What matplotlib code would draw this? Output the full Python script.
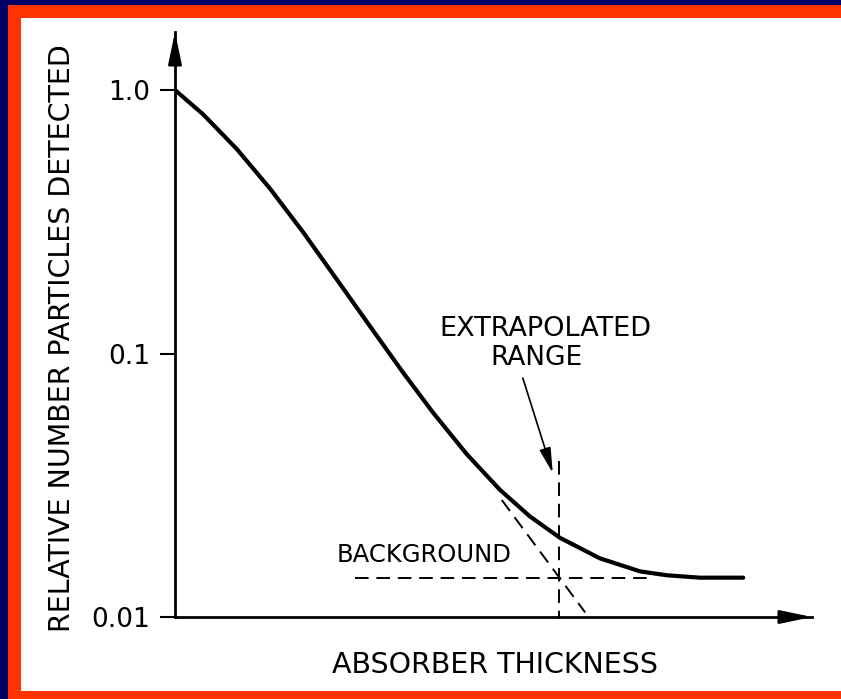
import numpy as np
import matplotlib
matplotlib.use('Agg')
import matplotlib.pyplot as plt
from matplotlib.patches import Rectangle

# curve (absorber thickness in arbitrary units)
thickness = [0, 0.44, 0.97, 1.49, 2.01, 2.54, 3.06, 3.58, 4.05, 4.58, 5.10, 5.57, 6.04,
             6.67, 7.30, 7.72, 8.24, 8.92]
detected = [1.0, 0.809, 0.597, 0.423, 0.289, 0.191, 0.127, 0.0847, 0.0597, 0.0415, 0.0304,
            0.0241, 0.0200, 0.0167, 0.0149, 0.0144, 0.0141, 0.0141]

background_level = 0.0141
background_x = [2.83, 7.5]
extrap_x = [5.13, 6.44]
extrap_y = [0.0278, 0.0104]
range_x = 6.03
range_y = [0.039, 0.01]

ytick_vals = [0.01, 0.1, 1.0]
ytick_labels = ['0.01', '0.1', '1.0']

W, H = 841, 699
fig = plt.figure(figsize=(W / 100, H / 100), dpi=100)
fig.patch.set_facecolor('#000066')
fig.patches.append(Rectangle((8 / W, 0), 1, (H - 5) / H, transform=fig.transFigure,
                             facecolor='#ff3300', edgecolor='none', zorder=-5))
fig.patches.append(Rectangle((21 / W, 8 / H), 1, (H - 18 - 8) / H, transform=fig.transFigure,
                             facecolor='white', edgecolor='none', zorder=-4))

ax = fig.add_axes([175 / W, (H - 617) / H, (812 - 175) / W, (617 - 32) / H])
ax.set_facecolor('none')
ax.set_yscale('log')
ax.set_xlim(0, 10)
ax.set_ylim(0.01, 10 ** ((617 - 32) / 263.5 - 2))

ax.plot(thickness, detected, color='black', lw=3, solid_joinstyle='round', solid_capstyle='round')
ax.plot(background_x, [background_level] * 2, color='black', lw=1.4, ls=(0, (7, 4)))
ax.plot(extrap_x, extrap_y, color='black', lw=1.4, ls=(0, (7, 4)))
ax.plot([range_x, range_x], range_y, color='black', lw=1.4, ls=(0, (7, 4)))
ax.annotate('', xy=(5.93, 0.0352), xytext=(5.46, 0.0807),
            arrowprops=dict(arrowstyle='-|>,head_length=1.1,head_width=0.25', color='black', lw=1.2,
                            mutation_scale=14, shrinkA=0, shrinkB=0))

ax.text(5.82, 0.124, 'EXTRAPOLATED', ha='center', va='center', fontsize=19.5)
ax.text(5.67, 0.096, 'RANGE', ha='center', va='center', fontsize=19)
ax.text(3.91, 0.0172, 'BACKGROUND', ha='center', va='center', fontsize=17.5)

for s in ['top', 'right']:
    ax.spines[s].set_visible(False)
for s in ['left', 'bottom']:
    ax.spines[s].set_linewidth(2)
ax.set_xticks([])
ax.set_yticks(ytick_vals)
ax.set_yticklabels(ytick_labels, fontsize=19)
ax.minorticks_off()
ax.tick_params(axis='y', length=11, width=1.5, pad=7)

# axis arrowheads
arrow_style = '-|>,head_length=0.95,head_width=0.2'
ax.annotate('', xy=(1, 0), xytext=(0.96, 0), xycoords='axes fraction',
            arrowprops=dict(arrowstyle=arrow_style, color='black', lw=2,
                            mutation_scale=20, shrinkA=0, shrinkB=0))
ax.annotate('', xy=(0, 1), xytext=(0, 0.96), xycoords='axes fraction',
            arrowprops=dict(arrowstyle=arrow_style, color='black', lw=2,
                            mutation_scale=20, shrinkA=0, shrinkB=0))

fig.text(495 / W, 1 - 665 / H, 'ABSORBER THICKNESS', ha='center', va='center', fontsize=20.5)
fig.text(62 / W, 1 - 338 / H, 'RELATIVE NUMBER PARTICLES DETECTED', ha='center', va='center',
         rotation=90, fontsize=20.5)

fig.savefig('out.png', dpi=100)
